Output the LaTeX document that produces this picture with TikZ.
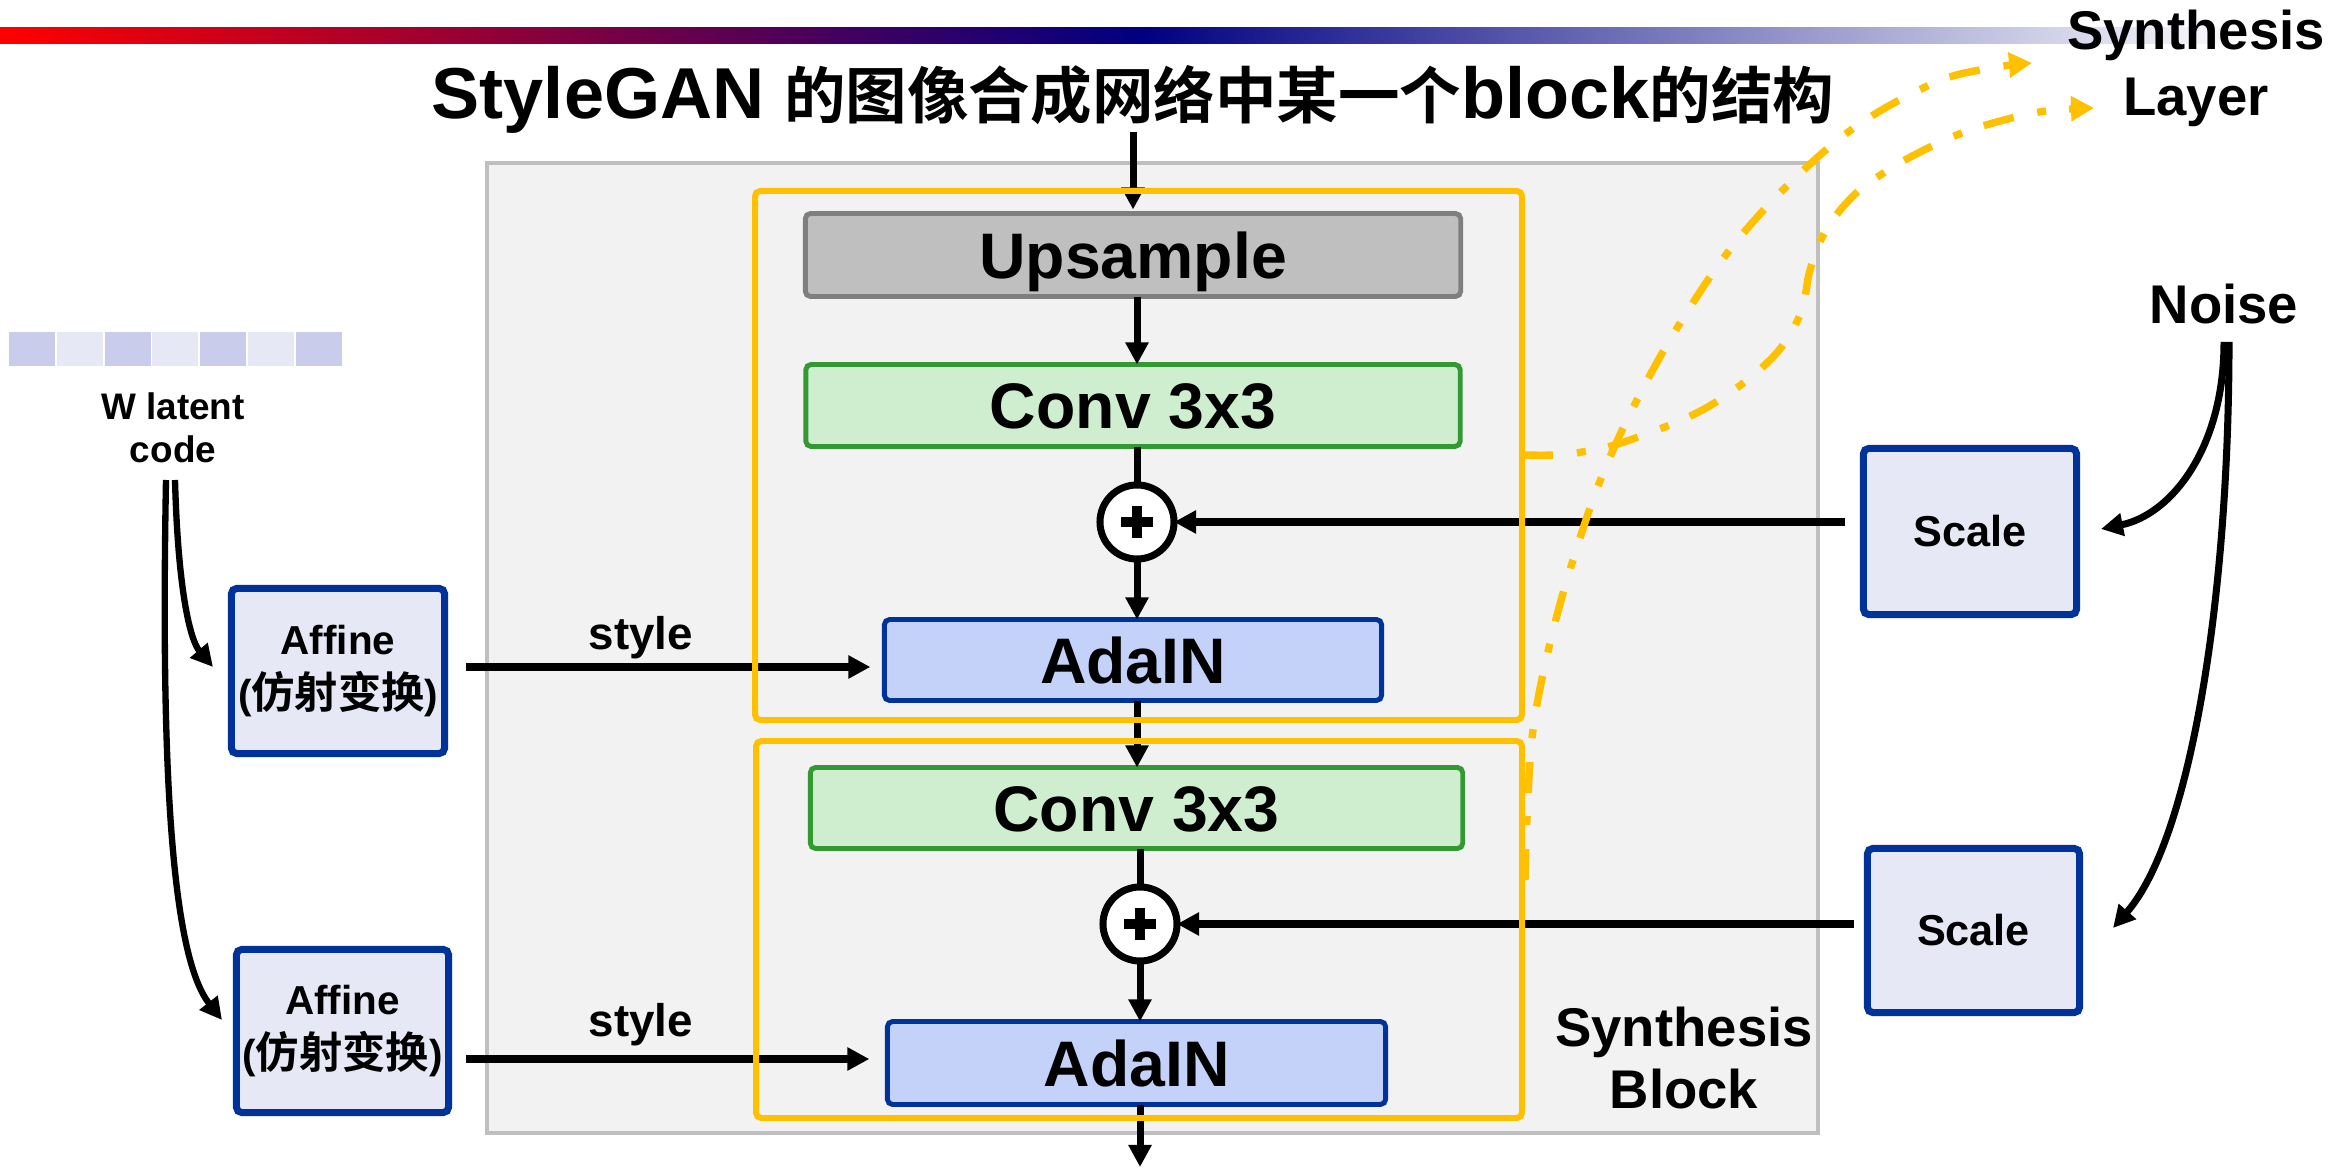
\documentclass[tikz,border=0pt]{standalone}
\usepackage{fontspec}
\setmainfont{Liberation Sans}
\newfontfamily\cjk{Noto Sans CJK SC}[BoldFont={Noto Sans CJK SC Bold}]
\usetikzlibrary{arrows.meta,calc}

\definecolor{blockgray}{HTML}{F2F2F2}
\definecolor{blockedge}{HTML}{BFBFBF}
\definecolor{gold}{HTML}{FFC000}
\definecolor{upfill}{HTML}{BFBFBF}
\definecolor{upedge}{HTML}{7F7F7F}
\definecolor{convfill}{HTML}{CFEECF}
\definecolor{convedge}{HTML}{339933}
\definecolor{adafill}{HTML}{C4D2FA}
\definecolor{navyedge}{HTML}{003399}
\definecolor{palefill}{HTML}{E6E8F5}
\definecolor{codedark}{HTML}{C9CCEB}
\definecolor{codelight}{HTML}{E6E8F5}
\definecolor{barnavy}{HTML}{000080}

\begin{document}
\begin{tikzpicture}[x=0.01cm,y=-0.01cm,
  every node/.style={inner sep=0pt, outer sep=0pt},
  >={Triangle[length=0.22cm,width=0.22cm]},
  flow/.style={line width=2pt, ->},
  wire/.style={line width=2pt},
  layer/.style={draw, line width=1.4pt, rounded corners=1.5pt,
    font=\fontsize{18.3}{22}\bfseries, text height=13.1pt, text depth=0pt},
  upbox/.style={layer, fill=upfill, draw=upedge},
  convbox/.style={layer, fill=convfill, draw=convedge},
  adabox/.style={layer, fill=adafill, draw=navyedge},
  sidebox/.style={draw=navyedge, fill=palefill, line width=2pt,
    rounded corners=1.5pt, align=center},
  addnode/.style={circle, draw, fill=white, line width=2pt, minimum size=0.74cm},
  yframe/.style={draw=gold, line width=1.7pt, rounded corners=1.5pt},
  tapline/.style={draw=gold, line width=2.1pt,
    dash pattern=on 0.31cm off 0.24cm on 0.09cm off 0.23cm,
    -{Triangle[length=0.23cm,width=0.24cm]}},
  label/.style={font=\fontsize{15.5}{18}\bfseries, anchor=base},
]
\useasboundingbox (0,0) rectangle (2328,1168);

% header bar
\shade[left color=red, right color=barnavy] (0,28) rectangle (1140,44);
\shade[left color=barnavy, right color=white] (1140,28) rectangle (2250,44);

% title
\node[anchor=base, font=\fontsize{20.5}{24}\bfseries] (title) at (1133,119)
  {StyleGAN {\fontsize{17.5}{24}\selectfont\cjk 的图像合成网络中某一个}block{\fontsize{17.5}{24}\selectfont\cjk 的结构}};

% synthesis block frame
\draw[blockedge, fill=blockgray, line width=1.4pt] (487,163) rectangle (1818,1133);

% main column
\node[upbox, minimum width=6.55cm, minimum height=0.83cm] (up) at (1133,255) {Upsample};
\node[convbox, minimum width=6.54cm, minimum height=0.82cm] (c1) at (1133,405.5) {Conv 3x3};
\node[addnode] (p1) at (1137,522) {};
\node[adabox, minimum width=4.97cm, minimum height=0.81cm] (a1) at (1133,660) {AdaIN};
\node[convbox, minimum width=6.52cm, minimum height=0.81cm] (c2) at (1136.5,808) {Conv 3x3};
\node[addnode] (p2) at (1140,924) {};
\node[adabox, minimum width=4.98cm, minimum height=0.83cm] (a2) at (1136.5,1063) {AdaIN};

% plus signs
\foreach \p in {p1,p2}
  \draw[line width=2.8pt] (\p.center) +(-16,0) -- +(16,0) (\p.center) +(0,-16) -- +(0,16);

% W latent code
\foreach \i in {0,2,4,6}
  \fill[codedark] (9+47.8*\i,332) rectangle ++(46,34);
\foreach \i in {1,3,5}
  \fill[codelight] (9+47.8*\i,332) rectangle ++(46,34);
\node[align=center, font=\fontsize{10.5}{12.2}\bfseries] (wcode) at (173,428) {W latent\\code};

% affine transforms
\node[sidebox, minimum width=2.13cm, minimum height=1.65cm,
  font=\fontsize{11.5}{15.5}\bfseries] (af1) at (338,671)
  {Affine\\({\fontsize{12.3}{15.5}\selectfont\cjk 仿射变换})};
\node[sidebox, minimum width=2.12cm, minimum height=1.63cm,
  font=\fontsize{11.5}{15.5}\bfseries] (af2) at (342.5,1031)
  {Affine\\({\fontsize{12.3}{15.5}\selectfont\cjk 仿射变换})};

% noise scaling
\node[label] (noise) at (2224,324) {Noise};
\node[sidebox, minimum width=2.13cm, minimum height=1.66cm,
  font=\fontsize{12.3}{14}\bfseries] (s1) at (1970,531.5) {Scale};
\node[sidebox, minimum width=2.12cm, minimum height=1.64cm,
  font=\fontsize{12.3}{14}\bfseries] (s2) at (1973.5,930.5) {Scale};

% free ends
\coordinate (in) at (1133,132);
\coordinate (out) at (1140,1167);
\coordinate (w1) at (175,480);
\coordinate (w2) at (166,480);
\coordinate (af1in) at (213,667);
\coordinate (af2in) at (222,1020);
\coordinate (n1) at (2224,342);
\coordinate (n2) at (2229,342);
\coordinate (s1in) at (2101,529);
\coordinate (s2in) at (2113,928);
\coordinate (s1out) at (1845,522);
\coordinate (s2out) at (1854,924);

% data path
\draw[flow] (in) -- ($(up.north)+(0,-4)$);
\draw[flow] (p1 |- up.south) -- (p1 |- c1.north);
\draw[wire] (p1 |- c1.south) -- (p1.north);
\draw[flow] (p1.south) -- (p1 |- a1.north);
\draw[flow] (p1 |- a1.south) -- (p1 |- c2.north);
\draw[wire] (p2 |- c2.south) -- (p2.north);
\draw[flow] (p2.south) -- (p2 |- a2.north);
\draw[flow] (p2 |- a2.south) -- (out);

% noise injection
\draw[flow] (s1out) -- (p1.east);
\draw[flow] (s2out) -- (p2.east);
\draw[flow] (n1) .. controls (2224,450) and (2170,515) .. (s1in);
\draw[flow] (n2) .. controls (2229,600) and (2190,840) .. (s2in);

% styles
\draw[flow] ($(af1.east)+(21,-4)$) -- ($(a1.west)+(-14,7)$);
\draw[flow] ($(af2.east)+(17,28)$) -- ($(a2.west)+(-18,-4)$);
\node[font=\fontsize{13}{15}\bfseries, anchor=base] (st1) at (641,650) {style};
\node[font=\fontsize{13}{15}\bfseries, anchor=base] (st2) at (641,1037) {style};

% latent code to affine layers
\draw[line width=1.8pt, ->] (w1) .. controls (178,590) and (190,640) .. (af1in);
\draw[line width=1.8pt, ->] (w2) .. controls (160,800) and (175,960) .. (af2in);

% layer frames
\draw[yframe] (755,191) rectangle (1522,720);
\draw[yframe] (756,741) rectangle (1522,1118);

% synthesis layer taps
\coordinate (tapA) at (1522,455);
\coordinate (tapB) at (1525,880);
\coordinate (layerA) at (2094,108);
\coordinate (layerB) at (2032,63);
\draw[tapline] plot[smooth, tension=0.6] coordinates {(tapA) (1555,455) (1582,452)
  (1627,441) (1706,408) (1770,360) (1800,315) (1810,270) (1825,232) (1852,197)
  (1885,172) (1922,151) (1962,133) (2004,120) (2046,111) (layerA)};
\draw[tapline] plot[smooth, tension=0.6] coordinates {(tapB) (1527,818) (1533,730)
  (1550,643) (1573,560) (1602,476) (1639,396) (1682,320) (1732,247) (1791,182)
  (1858,125) (1934,83) (1985,69) (layerB)};

% labels
\node[label] (synL1) at (2196,50) {Synthesis};
\node[label] (synL2) at (2196,116) {Layer};
\node[label] (synB1) at (1684,1047) {Synthesis};
\node[label] (synB2) at (1684,1108) {Block};
\end{tikzpicture}
\end{document}
